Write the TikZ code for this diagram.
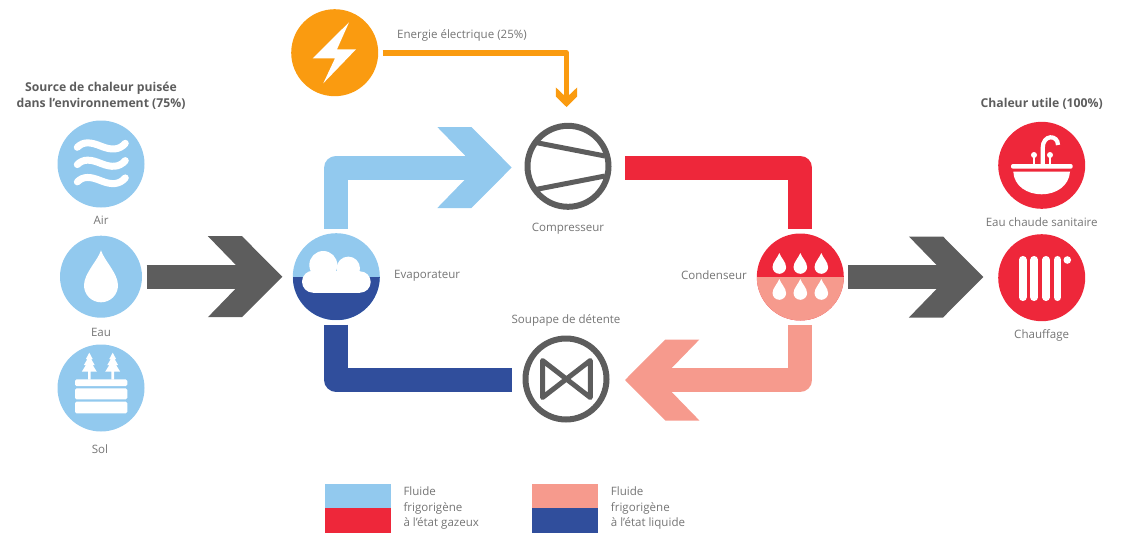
\documentclass[tikz,border=0pt]{standalone}
\usepackage{fontspec}
\setmainfont{Open Sans}
\usepackage{xcolor}
\definecolor{lightblue}{HTML}{92C9EE}
\definecolor{darkblue}{HTML}{304E9C}
\definecolor{hotred}{HTML}{EE273A}
\definecolor{salmon}{HTML}{F69A8D}
\definecolor{darkgrey}{HTML}{5D5D5D}
\definecolor{powerorange}{HTML}{FA9B10}
\tikzset{
	disc/.style={circle,inner sep=0pt,outer sep=4.5pt,minimum size=87pt},
	organ/.style={circle,draw=darkgrey,line width=6pt,inner sep=0pt,minimum size=81pt},
	pipe/.style={line width=24pt,line join=round},
	wire/.style={line width=5.7pt,line join=round},
	label/.style={text=darkgrey!85,font=\fontsize{11.55}{15.3}\selectfont,inner sep=0pt},
	title/.style={text=darkgrey,font=\fontsize{12.2}{16}\selectfont\bfseries,inner sep=0pt,align=center},
	icon/.style={white,line width=7pt,line cap=round},
	fathead/.pic={\fill (0,0) -- (-40.3,-40.5) -- (-74.4,-40.5) -- (-46.7,-12) -- (-46.7,12) -- (-74.4,40.5) -- (-40.3,40.5) -- cycle;},
	drop/.pic={\fill[white] (0,-35) .. controls (3,-25) and (17,-12) .. (17,0) .. controls (17,9.4) and (9.4,17) .. (0,17) .. controls (-9.4,17) and (-17,9.4) .. (-17,0) .. controls (-17,-12) and (-3,-25) .. cycle;},
	wave/.pic={\draw[icon] (0,0) .. controls (6,-6) and (13,-5.5) .. (24,-1) .. controls (34,3) and (42,3) .. (48,-4);},
	tree/.pic={\fill[white] (0,0) -- (-3.5,6.5) -- (-2,6.5) -- (-5.5,12.5) -- (-3.5,12.5) -- (-7.5,19) -- (-1.3,19) -- (-1.3,27) -- (1.3,27) -- (1.3,19) -- (7.5,19) -- (3.5,12.5) -- (5.5,12.5) -- (2,6.5) -- (3.5,6.5) -- cycle;},
}
\begin{document}
\begin{tikzpicture}[x=1pt,y=-1pt]
	\useasboundingbox (0,0) rectangle (1121,533);
	\node	(air) at (101,164) [disc,fill=lightblue] {};
	\node	(eau) at (101,276.7) [disc,fill=lightblue,minimum size=82pt] {};
	\node	(sol) at (101,388) [disc,fill=lightblue] {};
	\node	(elec) at (334.7,52.7) [disc,fill=powerorange] {};
	\node	(comp) at (568,166.3) [organ,outer sep=16.5pt] {};
	\node	(valve) at (566,379) [organ,outer sep=14pt] {};
	\node	(evap) at (336.3,276.7) [disc,fill=lightblue,path picture={\fill[darkblue] (path picture bounding box.west) rectangle (path picture bounding box.south east);}] {};
	\node	(cond) at (800.3,277) [disc,fill=hotred,path picture={\fill[salmon] (path picture bounding box.west) rectangle (path picture bounding box.south east);}] {};
	\node	(sink) at (1041.7,165.3) [disc,fill=hotred] {};
	\node	(heat) at (1041.7,277.7) [disc,fill=hotred] {};
	\coordinate	(elecin) at (566.5,107);
	\coordinate	(bluein) at (511.7,167.5);
	\coordinate	(salmonin) at (625,380);
	\coordinate	(leftin) at (282.3,276.7);
	\coordinate	(rightin) at (983.3,277);
	\draw[pipe,lightblue,shorten >=30pt] (evap.north) |- (bluein);
	\draw[pipe,hotred] ([yshift=-1.2pt]comp.east) -| (cond.north);
	\draw[pipe,salmon,shorten >=30pt] (cond.south) |- (salmonin);
	\draw[pipe,darkblue] (evap.south) |- ([yshift=-1pt]valve.west);
	\draw[pipe,darkgrey,shorten >=30pt] (eau.east) -- (leftin);
	\draw[pipe,darkgrey,shorten >=30pt] (cond.east) -- (rightin);
	\draw[wire,powerorange,shorten >=8pt] (elec.east) -| (elecin);
	\pic[lightblue] at (bluein) {fathead};
	\pic[salmon,rotate=180] at (salmonin) {fathead};
	\pic[darkgrey] at (leftin) {fathead};
	\pic[darkgrey] at (rightin) {fathead};
	\pic[powerorange,rotate=-90,scale=.264] at (elecin) {fathead};
	\draw[darkgrey,line width=5pt] (536.7,142.7) -- (605,156);
	\draw[darkgrey,line width=5pt] (536.7,189.3) -- (605,176);
	\draw[darkgrey,line width=5pt,line join=round] (542.5,360.5) -- (590.3,397.5) -- (590.3,360.5) -- (542.5,397.5) -- cycle;
	\fill[white] (349,22.3) -- (312.7,58.3) -- (335,58.3) -- (323.3,83.3) -- (356,49.3) -- (337,49.3) -- cycle;
	\pic at (77.3,147.3) {wave};
	\pic at (77.3,164.6) {wave};
	\pic at (77.3,181.9) {wave};
	\pic at (101,285.3) {drop};
	\pic at (89.3,352.7) {tree};
	\pic at (112.7,352.7) {tree};
	\fill[white,rounded corners=1.5pt] (75,379.3) rectangle (127.3,386);
	\fill[white,rounded corners=1.5pt] (75,388.3) rectangle (127.3,399.3);
	\fill[white,rounded corners=1.5pt] (75,401.7) rectangle (127.3,413.3);
	\fill[white] (323.3,265) circle (14);
	\fill[white] (348.3,268.3) circle (11.7);
	\fill[white] (313,281.7) circle (11);
	\fill[white] (360,282) circle (10.7);
	\fill[white] (313,270.7) rectangle (360,292.7);
	\pic[scale=.4] at (779.3,267) {drop};
	\pic[scale=.4] at (800.3,267) {drop};
	\pic[scale=.4] at (821.3,267) {drop};
	\pic[scale=.4] at (779.3,293) {drop};
	\pic[scale=.4] at (800.3,293) {drop};
	\pic[scale=.4] at (821.3,293) {drop};
	\fill[white,rounded corners=2pt] (1011,164) rectangle (1072.7,168.7);
	\fill[white] (1013.3,171.7) -- (1070,171.7) .. controls (1069,186) and (1056,194.3) .. (1041.7,194.3) .. controls (1027,194.3) and (1014,186) .. cycle;
	\draw[white,line width=4.2pt] (1042.7,164) -- (1042.7,148) .. controls (1042.7,134) and (1058,134.5) .. (1058,145);
	\draw[white,line width=2.8pt] (1034,155) -- (1034,164);
	\draw[white,line width=2.8pt] (1050,155) -- (1050,164);
	\fill[white] (1034,155) circle (3);
	\fill[white] (1050,155) circle (3);
	\draw[icon,line width=7.7pt] (1022.7,259.8) -- (1022.7,297.2);
	\draw[icon,line width=7.7pt] (1034.3,259.8) -- (1034.3,297.2);
	\draw[icon,line width=7.7pt] (1046,259.8) -- (1046,297.2);
	\draw[icon,line width=7.7pt] (1057.5,259.8) -- (1057.5,297.2);
	\fill[white] (1067.3,260) circle (3.8);
	\node	(srctitle) at (101,95.5) [title] {Source de chaleur puisée\\dans l’environnement (75\%)};
	\node	(airlab) at (101,220.5) [label] {Air};
	\node	(eaulab) at (101,332) [label] {Eau};
	\node	(sollab) at (100,449) [label] {Sol};
	\node	(eleclab) at (397,35.5) [label,anchor=west] {Energie électrique (25\%)};
	\node	(complab) at (568,228.8) [label] {Compresseur};
	\node	(evaplab) at (394,275.5) [label,anchor=west] {Evaporateur};
	\node	(condlab) at (747,275.5) [label,anchor=east] {Condenseur};
	\node	(valvelab) at (566,320.8) [label] {Soupape de détente};
	\node	(usetitle) at (1041.7,103.5) [title] {Chaleur utile (100\%)};
	\node	(sinklab) at (1041.7,221.7) [label] {Eau chaude sanitaire};
	\node	(heatlab) at (1041.7,335.5) [label] {Chauffage};
	\node	(gasblue) at (358,496) [minimum width=66pt,minimum height=24pt,inner sep=0pt,fill=lightblue] {};
	\node	(gasred) at (358,520.5) [minimum width=66pt,minimum height=25pt,inner sep=0pt,fill=hotred] {};
	\node	(liqsalmon) at (565,496) [minimum width=66pt,minimum height=24pt,inner sep=0pt,fill=salmon] {};
	\node	(liqblue) at (565,520.5) [minimum width=66pt,minimum height=25pt,inner sep=0pt,fill=darkblue] {};
	\node	(gaslab) at (403.3,508) [label,anchor=west,align=left] {Fluide\\frigorigène\\à l’état gazeux};
	\node	(liqlab) at (610.7,508) [label,anchor=west,align=left] {Fluide\\frigorigène\\à l’état liquide};
\end{tikzpicture}
\end{document}
